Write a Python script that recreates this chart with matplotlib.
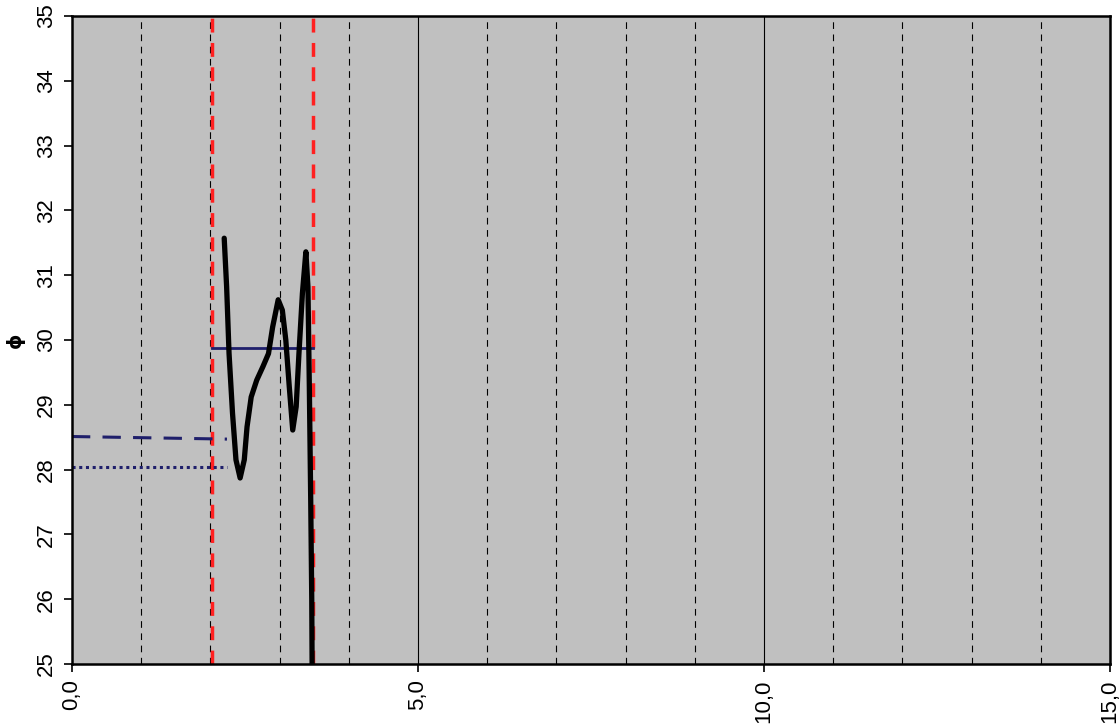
import matplotlib
matplotlib.use('Agg')
import matplotlib.pyplot as plt
import numpy as np
from matplotlib.ticker import MultipleLocator, FuncFormatter

plt.rcParams['font.family'] = ['Liberation Sans', 'DejaVu Sans']

# Profile curve (depth vs phi)
curve_x = [2.20, 2.235, 2.27, 2.32, 2.37, 2.43, 2.49, 2.53, 2.59, 2.67, 2.76, 2.84, 2.90,
           2.98, 3.04, 3.09, 3.14, 3.19, 3.24, 3.28, 3.33, 3.38, 3.41, 3.43, 3.45, 3.465, 3.475]
curve_y = [31.57, 30.82, 29.79, 28.87, 28.15, 27.87, 28.15, 28.66, 29.12, 29.38, 29.59, 29.79, 30.20,
           30.62, 30.46, 30.0, 29.28, 28.61, 28.97, 29.79, 30.72, 31.36, 30.82, 29.28, 27.53, 26.0, 24.0]

# Layer boundaries (red dashed)
bound_x = [2.02, 3.48]

# Mean value in layer
mean_x = [2.02, 3.48]
mean_y = [29.87, 29.87]

# Dashed and dotted reference lines
dash_x = [0.0, 2.24]
dash_y = [28.51, 28.47]
dot_x = [0.0, 2.24]
dot_y = [28.035, 28.035]

xlim = (0, 15)
ylim = (25, 35)

fig = plt.figure(figsize=(11.19, 7.24), dpi=100)
ax = fig.add_axes([0.0643, 0.0829, 0.9277, 0.8951])
ax.set_facecolor('#C0C0C0')

# grid: solid majors, dashed minors
for xv in range(1, 15):
    if xv % 5 == 0:
        ax.axvline(xv, color='black', linewidth=0.8, zorder=1)
    else:
        ax.axvline(xv, color='black', linewidth=0.8, linestyle=(0, (6, 5)), zorder=1)

for bx in bound_x:
    ax.axvline(bx, color='#FF2020', linewidth=2.5, linestyle=(0, (4, 3)), zorder=3)

ax.plot(mean_x, mean_y, color='#1F1F6B', linewidth=2, zorder=4)
ax.plot(dash_x, dash_y, color='#1F1F6B', linewidth=2.2, linestyle=(0, (6, 4)), zorder=4)
ax.plot(dot_x, dot_y, color='#1F1F6B', linewidth=2.2, linestyle=(0, (1, 1.2)), zorder=4)

ax.plot(curve_x, curve_y, color='black', linewidth=3.8, zorder=5,
        solid_capstyle='round', solid_joinstyle='round')

ax.set_xlim(*xlim)
ax.set_ylim(*ylim)
ax.xaxis.set_major_locator(MultipleLocator(5))
ax.yaxis.set_major_locator(MultipleLocator(1))
ax.xaxis.set_major_formatter(FuncFormatter(lambda v, p: f'{v:.1f}'.replace('.', ',')))
ax.yaxis.set_major_formatter(FuncFormatter(lambda v, p: f'{int(v)}'))

ax.tick_params(axis='both', direction='out', length=6, width=1.2, labelsize=16, pad=5)
plt.setp(ax.get_xticklabels(), rotation=90)
plt.setp(ax.get_yticklabels(), rotation=90, va='center')

for sp in ax.spines.values():
    sp.set_linewidth(1.8)
    sp.set_zorder(6)

ax.set_ylabel('ɸ', fontsize=14, fontweight='bold', rotation=90, labelpad=8,
              family=['DejaVu Sans'])

fig.savefig('out.png', dpi=100, facecolor='white')
